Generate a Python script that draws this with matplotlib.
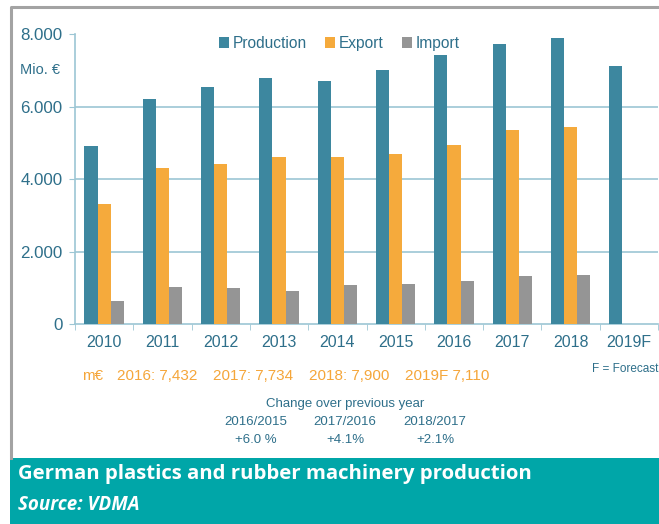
import matplotlib.pyplot as plt
import numpy as np
from matplotlib.lines import Line2D
from matplotlib.patches import Rectangle

years = ['2010', '2011', '2012', '2013', '2014', '2015', '2016', '2017', '2018', '2019F']
production = [4910, 6210, 6540, 6790, 6700, 7010, 7432, 7734, 7900, 7110]
export = [3320, 4300, 4410, 4610, 4600, 4690, 4940, 5350, 5430, 0]
imports = [640, 1030, 990, 920, 1080, 1100, 1190, 1320, 1360, 0]

yticks = [0, 2000, 4000, 6000, 8000]
ytick_labels = ['0', '2.000', '4.000', '6.000', '8.000']

c_prod = '#3d879f'
c_exp = '#f5aa3c'
c_imp = '#959595'
c_text = '#2e6f8a'
c_grid = '#9cc6d4'
c_orange = '#f5a63a'
c_banner = '#00a6a8'

plt.rcParams['font.family'] = ['Liberation Sans', 'DejaVu Sans']

W, H = 659, 524
fig = plt.figure(figsize=(W / 100, H / 100), dpi=100)
fig.patch.set_facecolor('white')
ax = fig.add_axes([75 / W, 1 - 324 / H, (658 - 75) / W, (324 - 34) / H])

x = np.arange(len(years))
bw = 0.225
ax.bar(x - bw, production, bw, color=c_prod, label='Production', zorder=3)
ax.bar(x, export, bw, color=c_exp, label='Export', zorder=3)
ax.bar(x + bw, imports, bw, color=c_imp, label='Import', zorder=3)

ax.set_xlim(-0.5, len(years) - 0.5)
ax.set_ylim(0, 8000)
ax.set_yticks(yticks)
ax.set_yticklabels(ytick_labels)
ax.set_xticks(x)
ax.set_xticklabels(years)
ax.set_xticks(np.arange(len(years) + 1) - 0.5, minor=True)
ax.tick_params(axis='x', which='major', length=0, pad=8, labelsize=11.5, labelcolor=c_text)
ax.tick_params(axis='x', which='minor', length=4, color=c_grid, direction='out')
ax.tick_params(axis='y', length=4, color=c_grid, pad=5, labelsize=12.2, labelcolor=c_text)

for v in [2000, 4000, 6000]:
    ax.axhline(v, color=c_grid, lw=1.2, zorder=1)
for side in ['top', 'right']:
    ax.spines[side].set_visible(False)
for side in ['left', 'bottom']:
    ax.spines[side].set_color(c_grid)
    ax.spines[side].set_linewidth(1.2)

fig.text(60 / W, 1 - 70 / H, 'Mio. €', ha='right', va='center', fontsize=10.5, color=c_text)

leg = ax.legend(loc='upper left', bbox_to_anchor=(219 / W, 1 - 36 / H),
                bbox_transform=fig.transFigure, ncol=3, frameon=False, borderpad=0,
                borderaxespad=0, handlelength=0.65, handleheight=0.65, handletextpad=0.25,
                columnspacing=1.15, fontsize=11.2)
for t in leg.get_texts():
    t.set_color(c_text)

# forecast line
fig.text(82 / W, 1 - 376 / H, 'm€', color=c_orange, fontsize=11, va='center')
orange_items = [('2016: 7,432', 117), ('2017: 7,734', 213), ('2018: 7,900', 309), ('2019F 7,110', 405)]
for s, px in orange_items:
    fig.text(px / W, 1 - 376 / H, s, color=c_orange, fontsize=11, va='center')
fig.text(658 / W, 1 - 369 / H, 'F = Forecast', color=c_text, fontsize=8.5, ha='right', va='center')

fig.text(345 / W, 1 - 404 / H, 'Change over previous year', color=c_text, fontsize=9.5,
         ha='center', va='center')
changes = [('2016/2015', '+6.0 %', 256), ('2017/2016', '+4.1%', 345), ('2018/2017', '+2.1%', 435)]
for period, pct, px in changes:
    fig.text(px / W, 1 - 422 / H, period, color=c_text, fontsize=9.5, ha='center', va='center')
    fig.text(px / W, 1 - 440 / H, pct, color=c_text, fontsize=9.5, ha='center', va='center')

# grey frame around the chart
fig.add_artist(Line2D([11 / W, 11 / W, 1], [1 - 458 / H, 1 - 6.5 / H, 1 - 6.5 / H],
                      color='#a3a3a3', lw=2.2, transform=fig.transFigure))

# caption banner
fig.add_artist(Rectangle((10 / W, 0), 1 - 10 / W, 66 / H, transform=fig.transFigure,
                         facecolor=c_banner, edgecolor='none'))
fig.text(18 / W, 1 - 474 / H, 'German plastics and rubber machinery production',
         family='Open Sans', weight='bold', fontsize=14.7, color='white', va='center')
fig.text(18 / W, 1 - 505 / H, 'Source: VDMA', family='Open Sans', weight='bold', style='italic',
         fontsize=13.5, color='white', va='center')

fig.savefig('out.png', dpi=100)
